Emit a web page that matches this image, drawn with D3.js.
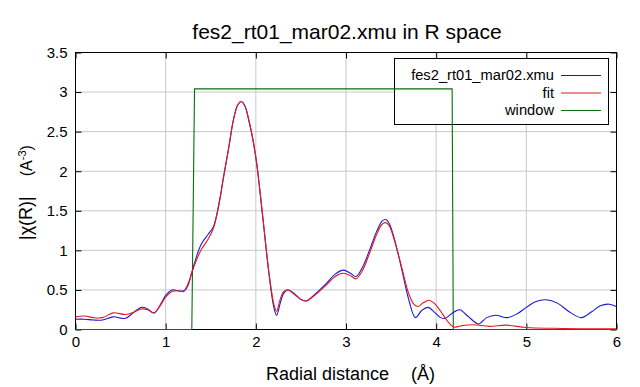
<!DOCTYPE html>
<html>
<head>
<meta charset="utf-8">
<script src="https://cdn.jsdelivr.net/npm/d3@7"></script>
<style>
  body { margin: 0; background: #fff; }
  text { font-family: "Liberation Sans", Arial, sans-serif; fill: #000; }
</style>
</head>
<body>
<div id="chart"></div>
<script>
// data |chi(R)|: [R, value]
const dataSeries = [
  [0.00, 0.13], [0.10, 0.13], [0.20, 0.12], [0.30, 0.12], [0.42, 0.16], [0.55, 0.14],
  [0.65, 0.22], [0.73, 0.28], [0.80, 0.26], [0.87, 0.21], [0.95, 0.33], [1.00, 0.43],
  [1.07, 0.50], [1.13, 0.49], [1.20, 0.49], [1.25, 0.58], [1.29, 0.72], [1.35, 0.95],
  [1.40, 1.09], [1.47, 1.20], [1.53, 1.30], [1.60, 1.65], [1.64, 1.92], [1.70, 2.30],
  [1.75, 2.64], [1.80, 2.84], [1.84, 2.88], [1.88, 2.82], [1.93, 2.60], [1.97, 2.38],
  [2.01, 2.09], [2.08, 1.38], [2.15, 0.66], [2.20, 0.28], [2.23, 0.18], [2.27, 0.33],
  [2.31, 0.46], [2.36, 0.50], [2.42, 0.46], [2.50, 0.38], [2.56, 0.36], [2.65, 0.44],
  [2.78, 0.58], [2.88, 0.70], [2.97, 0.75], [3.05, 0.71], [3.11, 0.67], [3.18, 0.78],
  [3.26, 1.00], [3.34, 1.24], [3.40, 1.37], [3.44, 1.39], [3.48, 1.34], [3.52, 1.21],
  [3.58, 0.95], [3.63, 0.70], [3.70, 0.36], [3.77, 0.15], [3.84, 0.24], [3.91, 0.28],
  [3.98, 0.22], [4.05, 0.15], [4.10, 0.14], [4.17, 0.20], [4.26, 0.25], [4.35, 0.17],
  [4.47, 0.07], [4.56, 0.15], [4.66, 0.18], [4.79, 0.15], [4.90, 0.20], [5.00, 0.28],
  [5.10, 0.35], [5.22, 0.375], [5.35, 0.33], [5.48, 0.22], [5.61, 0.15], [5.72, 0.22],
  [5.82, 0.30], [5.92, 0.32], [6.00, 0.29]
]

const fitSeries = [
  [0.00, 0.16], [0.10, 0.17], [0.20, 0.15], [0.30, 0.15], [0.42, 0.21], [0.55, 0.19],
  [0.65, 0.22], [0.73, 0.26], [0.80, 0.25], [0.87, 0.21], [0.95, 0.32], [1.00, 0.41],
  [1.07, 0.48], [1.13, 0.49], [1.20, 0.48], [1.25, 0.56], [1.29, 0.72], [1.35, 0.90],
  [1.40, 1.02], [1.47, 1.14], [1.53, 1.28], [1.60, 1.63], [1.64, 1.91], [1.70, 2.30],
  [1.75, 2.64], [1.80, 2.84], [1.84, 2.88], [1.88, 2.82], [1.93, 2.61], [1.97, 2.39],
  [2.01, 2.10], [2.08, 1.40], [2.15, 0.68], [2.20, 0.32], [2.23, 0.23], [2.27, 0.38],
  [2.31, 0.48], [2.36, 0.50], [2.42, 0.45], [2.50, 0.38], [2.56, 0.36], [2.65, 0.43],
  [2.78, 0.56], [2.88, 0.67], [2.97, 0.71], [3.05, 0.68], [3.11, 0.64], [3.18, 0.74],
  [3.26, 0.96], [3.34, 1.20], [3.40, 1.33], [3.44, 1.35], [3.48, 1.31], [3.52, 1.19],
  [3.58, 0.95], [3.63, 0.73], [3.70, 0.44], [3.76, 0.31], [3.80, 0.29], [3.86, 0.34],
  [3.92, 0.37], [3.98, 0.33], [4.05, 0.23], [4.11, 0.13], [4.16, 0.06], [4.20, 0.03],
  [4.27, 0.045], [4.41, 0.06], [4.59, 0.04], [4.78, 0.055], [5.00, 0.025], [5.30, 0.015],
  [5.60, 0.01], [6.00, 0.01]
]

const windowSeries = [
  [0.00, 0], [1.29, 0], [1.32, 3.04], [4.177, 3.04], [4.19, 0], [6.00, 0]
]

const xTicks = [0, 1, 2, 3, 4, 5, 6]
const yTicks = [0, 0.5, 1, 1.5, 2, 2.5, 3, 3.5]

const legendItems = [
  { label: "fes2_rt01_mar02.xmu", color: "#1a1ad6" },
  { label: "fit", color: "#e8191e" },
  { label: "window", color: "#0a6e0a" }
]

const titleText = "fes2_rt01_mar02.xmu in R space"

//------------- dimensions
const width = 640
const height = 387
const plot = { left: 75.5, right: 616.5, top: 52.5, bottom: 329.5 }

const svg = d3.select("#chart")
  .append("svg")
  .attr("width", width)
  .attr("height", height)

svg.append("rect")
  .attr("width", width)
  .attr("height", height)
  .attr("fill", "#fff")

//------------- scales
const xScale = d3.scaleLinear()
  .domain([0, 6])
  .range([plot.left, plot.right])

const yScale = d3.scaleLinear()
  .domain([0, 3.5])
  .range([plot.bottom, plot.top])

//------------- grid
const grid = svg.append("g")
grid.selectAll(".vgrid")
  .data(xTicks.slice(1, -1))
  .join("line")
  .attr("x1", d => xScale(d)).attr("x2", d => xScale(d))
  .attr("y1", plot.top).attr("y2", plot.bottom)
  .attr("stroke", "#c8c8c8")
  .attr("stroke-width", 1)

grid.selectAll(".hgrid")
  .data(yTicks.slice(1, -1))
  .join("line")
  .attr("x1", plot.left).attr("x2", plot.right)
  .attr("y1", d => yScale(d)).attr("y2", d => yScale(d))
  .attr("stroke", "#c8c8c8")
  .attr("stroke-width", 1)

//------------- axes (ticks point inward, mirrored on top / right)
const styleAxis = g => {
  g.select(".domain").remove()
  g.selectAll(".tick line").attr("stroke", "#000")
  g.selectAll(".tick text")
    .attr("fill", "#000")
    .style("font-family", "'Liberation Sans', Arial, sans-serif")
    .style("font-size", "15px")
}

svg.append("g")
  .attr("transform", `translate(0,${plot.bottom})`)
  .call(d3.axisBottom(xScale).tickValues(xTicks).tickSize(-6).tickPadding(7).tickFormat(d3.format("d")))
  .call(styleAxis)

svg.append("g")
  .attr("transform", `translate(0,${plot.top})`)
  .call(d3.axisTop(xScale).tickValues(xTicks).tickSize(-6).tickFormat(""))
  .call(styleAxis)

svg.append("g")
  .attr("transform", `translate(${plot.left},0)`)
  .call(d3.axisLeft(yScale).tickValues(yTicks).tickSize(-6).tickPadding(8).tickFormat(d => d))
  .call(styleAxis)

svg.append("g")
  .attr("transform", `translate(${plot.right},0)`)
  .call(d3.axisRight(yScale).tickValues(yTicks).tickSize(-6).tickFormat(""))
  .call(styleAxis)

svg.append("rect")
  .attr("x", plot.left)
  .attr("y", plot.top)
  .attr("width", plot.right - plot.left)
  .attr("height", plot.bottom - plot.top)
  .attr("fill", "none")
  .attr("stroke", "#000")
  .attr("stroke-width", 1)

//------------- legend box (opaque, under the lines)
const legend = { left: 394.5, top: 58.5, right: 608.5, bottom: 124.5, textX: 554, lineX1: 561, lineX2: 601, rowY: [75, 92.5, 110] }

svg.append("rect")
  .attr("x", legend.left)
  .attr("y", legend.top)
  .attr("width", legend.right - legend.left)
  .attr("height", legend.bottom - legend.top)
  .attr("fill", "#fff")
  .attr("stroke", "#000")
  .attr("stroke-width", 1)

//------------- lines
const lineGenerator = d3.line()
  .x(d => xScale(d[0]))
  .y(d => yScale(d[1]))
  .curve(d3.curveCatmullRom.alpha(0.5))

const windowGenerator = d3.line()
  .x(d => xScale(d[0]))
  .y(d => yScale(d[1]))

svg.append("path")
  .attr("d", windowGenerator(windowSeries))
  .attr("fill", "none")
  .attr("stroke", legendItems[2].color)
  .attr("stroke-width", 1.1)

svg.append("path")
  .attr("d", lineGenerator(dataSeries))
  .attr("fill", "none")
  .attr("stroke", legendItems[0].color)
  .attr("stroke-width", 1.1)

svg.append("path")
  .attr("d", lineGenerator(fitSeries))
  .attr("fill", "none")
  .attr("stroke", legendItems[1].color)
  .attr("stroke-width", 1.1)

//------------- legend entries
const rows = svg.append("g")
  .selectAll("g")
  .data(legendItems)
  .join("g")
  .attr("transform", (d, i) => `translate(0,${legend.rowY[i]})`)

rows.append("text")
  .attr("x", legend.textX)
  .attr("dy", "0.35em")
  .attr("text-anchor", "end")
  .style("font-size", "14.7px")
  .text(d => d.label)

rows.append("line")
  .attr("x1", legend.lineX1)
  .attr("x2", legend.lineX2)
  .attr("y1", 0.5).attr("y2", 0.5)
  .attr("stroke", d => d.color)
  .attr("stroke-width", 1.1)

//------------- titles
svg.append("text")
  .attr("x", 347)
  .attr("y", 39)
  .attr("text-anchor", "middle")
  .style("font-size", "21px")
  .text(titleText)

const xLabel = svg.append("text")
  .attr("x", 266)
  .attr("y", 380)
  .style("font-size", "18px")
xLabel.append("tspan").text("Radial distance")
xLabel.append("tspan").attr("dx", 22).text("(Å)")

const yLabel = svg.append("text")
  .attr("transform", "translate(32,240) rotate(-90)")
  .attr("x", 0)
  .attr("y", 0)
yLabel.append("tspan").style("font-size", "18px").text("|χ(R)|")
yLabel.append("tspan").attr("dx", 20).style("font-size", "16px").text("(A")
yLabel.append("tspan").attr("dy", -6).style("font-size", "11px").text("-3")
yLabel.append("tspan").attr("dy", 6).style("font-size", "16px").text(")")
</script>
</body>
</html>
